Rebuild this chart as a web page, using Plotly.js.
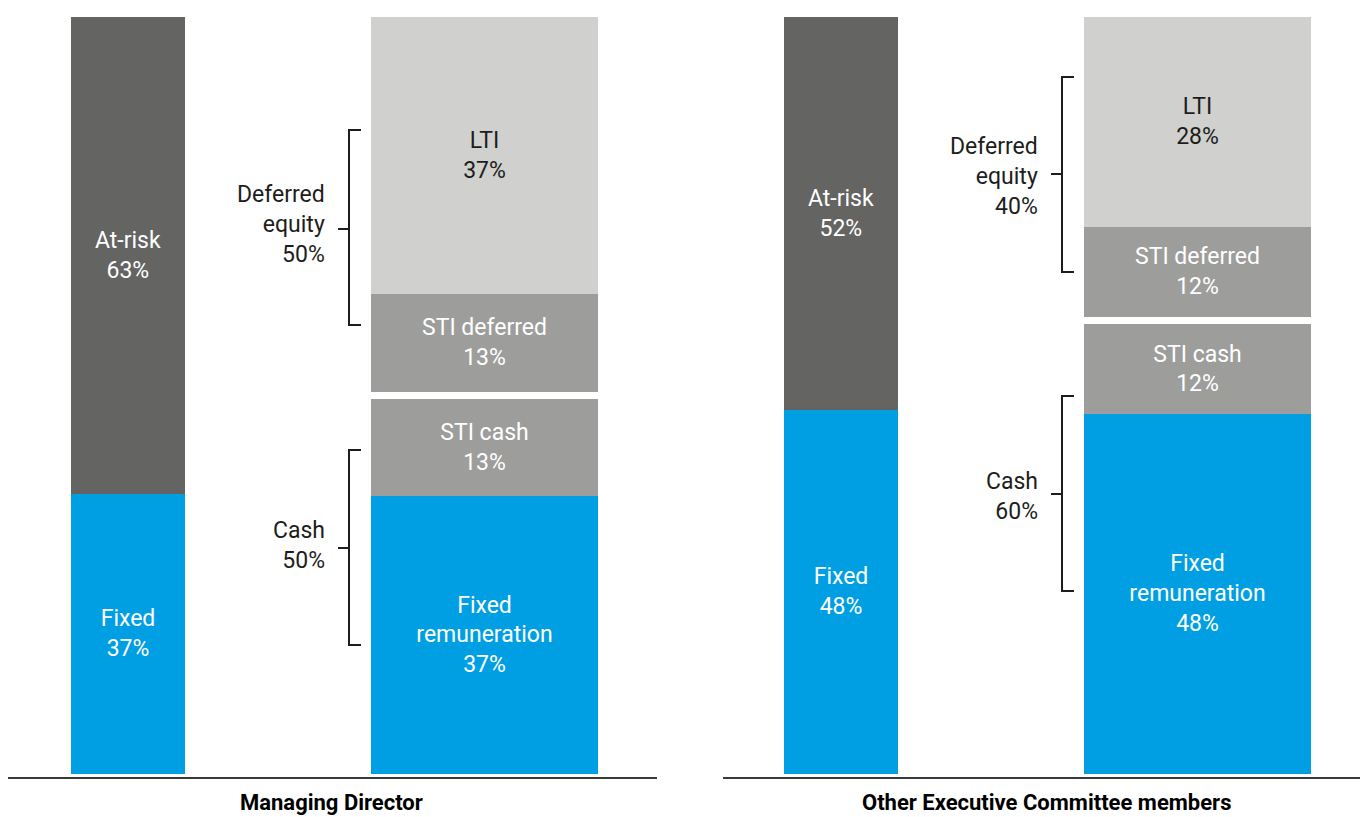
<!DOCTYPE html>
<html>
<head>
<meta charset="utf-8">
<script src="https://cdn.plot.ly/plotly-3.0.1.min.js"></script>
<style>html,body{margin:0;padding:0;background:#fff;}#chart{width:1360px;height:817px;}</style>
</head>
<body>
<div id="chart"></div>
<script>
// ---- data ----
const panels = ["Managing Director", "Other Executive Committee members"];
const categories = ["Total", "Breakdown"];
const fixedPct = [37, 48];
const atRiskPct = [63, 52];
const fixedRemPct = [37, 48];
const stiCashPct = [13, 12];
const stiDeferredPct = [13, 12];
const ltiPct = [37, 28];
const cashPct = [50, 60];
const deferredEquityPct = [50, 40];

// ---- styling ----
const FONT = "Roboto, 'DejaVu Sans', sans-serif";
const FS = 23;
const DARK = "#1d1d1b";
const BLUE = "#009fe3";
const C_ATRISK = "#646462";
const C_STI = "#9d9d9c";
const C_LTI = "#d0d0ce";
const GAP = 1; // white spacer between STI cash and STI deferred
const W = 1360, H = 817;
const px = v => v / W;
const py = v => (H - v) / H;

const traces = [];
function bar(xa, ya, cat, val, name, color, label, txtColor, width) {
  return {
    type: 'bar', xaxis: xa, yaxis: ya, x: [cat], y: [val], name: name,
    width: [width], marker: {color: color, line: {width: 0}},
    text: label ? [label] : [''], textposition: label ? 'inside' : 'none',
    insidetextanchor: 'middle', textangle: 0, constraintext: 'none',
    textfont: {family: FONT, size: FS, color: txtColor},
    hoverinfo: 'skip', showlegend: false, cliponaxis: false
  };
}
for (let i = 0; i < 2; i++) {
  const xa = i === 0 ? 'x' : 'x2';
  const yt = i === 0 ? 'y' : 'y3';
  const yb = i === 0 ? 'y2' : 'y4';
  traces.push(bar(xa, yt, categories[0], fixedPct[i], 'Fixed', BLUE, 'Fixed<br>' + fixedPct[i] + '%', '#fff', 0.32));
  traces.push(bar(xa, yt, categories[0], atRiskPct[i], 'At-risk', C_ATRISK, 'At-risk<br>' + atRiskPct[i] + '%', '#fff', 0.32));
  traces.push(bar(xa, yb, categories[1], fixedRemPct[i], 'Fixed remuneration', BLUE, 'Fixed<br>remuneration<br>' + fixedRemPct[i] + '%', '#fff', 0.637));
  traces.push(bar(xa, yb, categories[1], stiCashPct[i], 'STI cash', C_STI, 'STI cash<br>' + stiCashPct[i] + '%', '#fff', 0.637));
  traces.push(bar(xa, yb, categories[1], GAP, 'gap', '#ffffff', null, '#fff', 0.637));
  traces.push(bar(xa, yb, categories[1], stiDeferredPct[i], 'STI deferred', C_STI, 'STI deferred<br>' + stiDeferredPct[i] + '%', '#fff', 0.637));
  traces.push(bar(xa, yb, categories[1], ltiPct[i], 'LTI', C_LTI, 'LTI<br>' + ltiPct[i] + '%', DARK, 0.637));
}

const yDom = [py(777), py(17)];
const r0 = -0.4626;
function yax(extra) {
  return Object.assign({showgrid: false, zeroline: false, showline: false, showticklabels: false, ticks: '', fixedrange: true}, extra);
}
function xax(extra) {
  return Object.assign({type: 'category', categoryorder: 'array', categoryarray: categories,
    showgrid: false, zeroline: false, showline: true, linecolor: '#3a3a38', linewidth: 2,
    showticklabels: false, ticks: '', fixedrange: true}, extra);
}

// brackets (decorative): vertical x, top, bottom, middle in px
const brackets = [
  {x: 349, top: 130, bot: 325, mid: 229, label: 'Deferred<br>equity<br>' + deferredEquityPct[0] + '%', ly: 224, lx: 327},
  {x: 349, top: 450, bot: 645, mid: 548, label: 'Cash<br>' + cashPct[0] + '%', ly: 545, lx: 327},
  {x: 1062, top: 77, bot: 272, mid: 174, label: 'Deferred<br>equity<br>' + deferredEquityPct[1] + '%', ly: 176, lx: 1040},
  {x: 1062, top: 396, bot: 591, mid: 494, label: 'Cash<br>' + cashPct[1] + '%', ly: 496, lx: 1040}
];
const shapes = [];
const annotations = [];
brackets.forEach(b => {
  shapes.push({type: 'path', xref: 'paper', yref: 'paper',
    path: `M ${px(b.x + 12)} ${py(b.top)} L ${px(b.x)} ${py(b.top)} L ${px(b.x)} ${py(b.bot)} L ${px(b.x + 12)} ${py(b.bot)}`,
    line: {color: DARK, width: 2}});
  shapes.push({type: 'line', xref: 'paper', yref: 'paper',
    x0: px(b.x - 11), x1: px(b.x), y0: py(b.mid), y1: py(b.mid),
    line: {color: DARK, width: 2}});
  annotations.push({xref: 'paper', yref: 'paper', x: px(b.lx), y: py(b.ly), xanchor: 'right', yanchor: 'middle',
    align: 'right', text: b.label, showarrow: false, font: {family: FONT, size: FS, color: DARK}});
});
annotations.push({xref: 'paper', yref: 'paper', x: px(331), y: py(802), xanchor: 'center', yanchor: 'middle',
  text: '<b>' + panels[0] + '</b>', showarrow: false, font: {family: FONT, size: 22, color: '#000'}});
annotations.push({xref: 'paper', yref: 'paper', x: px(1046), y: py(802), xanchor: 'center', yanchor: 'middle',
  text: '<b>' + panels[1] + '</b>', showarrow: false, font: {family: FONT, size: 22, color: '#000'}});

const layout = {
  width: W, height: H, margin: {l: 0, r: 0, t: 0, b: 0},
  paper_bgcolor: '#fff', plot_bgcolor: 'rgba(0,0,0,0)',
  barmode: 'stack', showlegend: false,
  font: {family: FONT, color: DARK},
  xaxis: xax({domain: [px(8), px(657)], range: [-0.3366, 1.4839], anchor: 'y'}),
  xaxis2: xax({domain: [px(723), 1], range: [-0.331, 1.4558], anchor: 'y3'}),
  yaxis: yax({domain: yDom, range: [r0, 100], anchor: 'x'}),
  yaxis2: yax({overlaying: 'y', range: [r0 * (100 + GAP) / 100, 100 + GAP], anchor: 'x'}),
  yaxis3: yax({domain: yDom, range: [r0, 100], anchor: 'x2'}),
  yaxis4: yax({overlaying: 'y3', range: [r0 * (100 + GAP) / 100, 100 + GAP], anchor: 'x2'}),
  shapes: shapes, annotations: annotations
};
Plotly.newPlot('chart', traces, layout, {displayModeBar: false, staticPlot: true});
</script>
</body>
</html>
